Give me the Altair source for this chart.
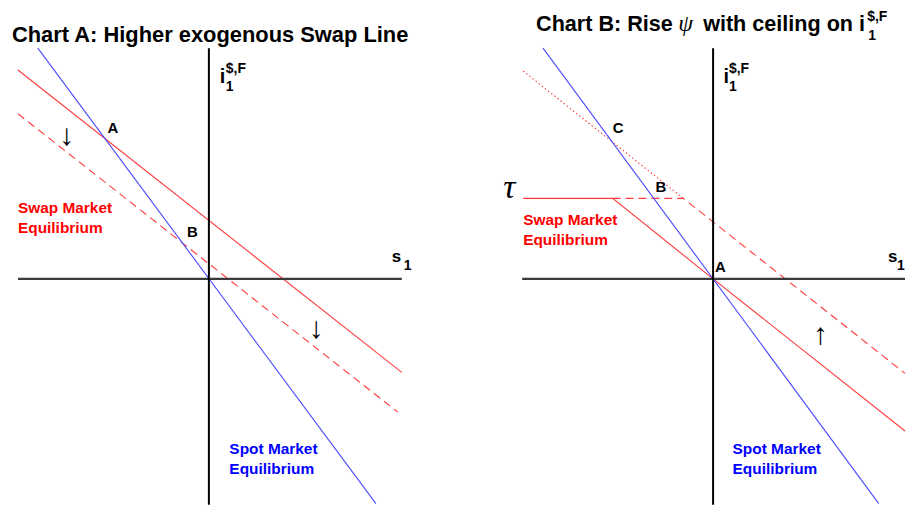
import altair as alt
import pandas as pd

# ---------------- data (abstract diagram units, origin = axes crossing) ----------------
# Chart A
A_haxis_x = [-9.6, 9.7]
A_haxis_y = [0, 0]
A_vaxis_x = [0, 0]
A_vaxis_y = [11.6, -11.35]
A_spot_x = [-8.6, 8.4]
A_spot_y = [11.6, -11.3]
A_swap_x = [-9.6, 9.7]
A_swap_y = [10.5, -4.7]
A_swap_new_x = [-9.6, 9.5]
A_swap_new_y = [8.3, -6.7]

# Chart B
B_haxis_x = [-9.6, 9.65]
B_haxis_y = [0, 0]
B_vaxis_x = [0, 0]
B_vaxis_y = [11.6, -11.35]
B_spot_x = [-8.55, 8.33]
B_spot_y = [11.6, -11.3]
B_swap_x = [-9.55, -5.05, 0, 9.65]
B_swap_y = [4.05, 4.05, 0, -7.65]
B_swap_new_x = [-5.05, -1.5, 9.65]
B_swap_new_y = [4.05, 4.05, -4.75]
B_swap_free_x = [-9.55, -1.5]
B_swap_free_y = [10.45, 4.05]

# text annotations: (text, x, y)
A_title = [("Chart A: Higher exogenous Swap Line", -9.9, 11.9)]
A_points = [("A", -5.1, 7.6), ("B", -1.1, 2.35)]
A_arrows = [("\u2193", -7.15, 7.2), ("\u2193", 5.4, -2.5)]
A_swap_lbl = [("Swap Market", -9.6, 3.3), ("Equilibrium", -9.6, 2.3)]
A_spot_lbl = [("Spot Market", 1.03, -8.8), ("Equilibrium", 1.03, -9.8)]
A_i_main = [("i", 0.55, 9.85)]
A_i_small = [("$,F", 0.85, 10.35), ("1", 0.85, 9.45)]
A_s_main = [("s", 9.2, 0.85)]
A_s_small = [("1", 9.8, 0.45)]

B_title = [("Chart B: Rise", -8.9, 12.45), ("with ceiling on i", -0.5, 12.45)]
B_title_sym = [("\u03c8", -1.75, 12.45)]
B_title_small = [("$,F", 7.75, 12.95), ("1", 7.8, 12.0)]
B_points = [("C", -5.05, 7.6), ("B", -2.9, 4.6), ("A", 0.1, 0.6)]
B_tau = [("\u03c4", -10.55, 4.05)]
B_arrows = [("\u2191", 5.4, -2.8)]
B_swap_lbl = [("Swap Market", -9.55, 2.7), ("Equilibrium", -9.55, 1.7)]
B_spot_lbl = [("Spot Market", 0.98, -8.8), ("Equilibrium", 0.98, -9.8)]
B_i_main = [("i", 0.52, 9.85)]
B_i_small = [("$,F", 0.8, 10.35), ("1", 0.8, 9.45)]
B_s_main = [("s", 8.8, 0.85)]
B_s_small = [("1", 9.25, 0.45)]

# ---------------- helpers ----------------
W, H = 451, 498
Y_DOM = [-11.35, 13.55]
SANS = "Liberation Sans"
SERIF = "Liberation Serif"
RED = "#ff3b3b"
BLUE = "#4848ff"


def line_layer(xs, ys, xdom, color, width, dash=None):
    df = pd.DataFrame({"x": xs, "y": ys, "k": list(range(len(xs)))})
    kw = dict(color=color, strokeWidth=width, clip=False)
    if dash is not None:
        kw["strokeDash"] = dash
    return alt.Chart(df).mark_line(**kw).encode(
        x=alt.X("x:Q", scale=alt.Scale(domain=xdom, nice=False, zero=False), axis=None),
        y=alt.Y("y:Q", scale=alt.Scale(domain=Y_DOM, nice=False, zero=False), axis=None),
        order="k:Q",
    )


def text_layer(rows, xdom, size, color="black", weight="bold", font=SANS,
               style="normal", align="left", baseline="alphabetic"):
    df = pd.DataFrame(rows, columns=["t", "x", "y"])
    return alt.Chart(df).mark_text(
        font=font, fontSize=size, fontWeight=weight, fontStyle=style,
        color=color, align=align, baseline=baseline, clip=False,
    ).encode(
        x=alt.X("x:Q", scale=alt.Scale(domain=xdom, nice=False, zero=False), axis=None),
        y=alt.Y("y:Q", scale=alt.Scale(domain=Y_DOM, nice=False, zero=False), axis=None),
        text="t:N",
    )


# ---------------- Chart A ----------------
XA = [-10.1, 12.45]
panel_a = alt.layer(
    line_layer(A_swap_x, A_swap_y, XA, RED, 1.1),
    line_layer(A_swap_new_x, A_swap_new_y, XA, RED, 1.1, [8, 5]),
    line_layer(A_spot_x, A_spot_y, XA, BLUE, 1.1),
    line_layer(A_haxis_x, A_haxis_y, XA, "#3a3a3a", 2.4),
    line_layer(A_vaxis_x, A_vaxis_y, XA, "black", 2),
    text_layer(A_title, XA, 22),
    text_layer(A_points, XA, 15, baseline="middle"),
    text_layer(A_arrows, XA, 30, weight="bold", align="center", baseline="middle"),
    text_layer(A_swap_lbl, XA, 15.5, color="#ff0000"),
    text_layer(A_spot_lbl, XA, 15.5, color="#0000ff"),
    text_layer(A_i_main, XA, 20),
    text_layer(A_i_small, XA, 14),
    text_layer(A_s_main, XA, 17),
    text_layer(A_s_small, XA, 14),
).properties(width=W, height=H)

# ---------------- Chart B ----------------
XB = [-12.9, 9.65]
panel_b = alt.layer(
    line_layer(B_swap_free_x, B_swap_free_y, XB, RED, 1.1, [1.5, 2.5]),
    line_layer(B_swap_new_x, B_swap_new_y, XB, RED, 1.1, [8, 5]),
    line_layer(B_swap_x, B_swap_y, XB, RED, 1.1),
    line_layer(B_spot_x, B_spot_y, XB, BLUE, 1.1),
    line_layer(B_haxis_x, B_haxis_y, XB, "#3a3a3a", 2.4),
    line_layer(B_vaxis_x, B_vaxis_y, XB, "black", 2),
    text_layer(B_title, XB, 21.7),
    text_layer(B_title_sym, XB, 24, weight="normal", font=SERIF, style="italic"),
    text_layer(B_title_small, XB, 14),
    text_layer(B_points, XB, 15, baseline="middle"),
    text_layer(B_tau, XB, 34, weight="normal", font=SERIF, style="italic"),
    text_layer(B_arrows, XB, 30, weight="bold", align="center", baseline="middle"),
    text_layer(B_swap_lbl, XB, 15.5, color="#ff0000"),
    text_layer(B_spot_lbl, XB, 15.5, color="#0000ff"),
    text_layer(B_i_main, XB, 20),
    text_layer(B_i_small, XB, 14),
    text_layer(B_s_main, XB, 17),
    text_layer(B_s_small, XB, 14),
).properties(width=W, height=H)

chart = alt.hconcat(panel_a, panel_b, spacing=0).properties(
    padding=0, background="white"
).configure_view(stroke=None)

chart.save("out.html", embed_options={"renderer": "svg", "actions": False})
